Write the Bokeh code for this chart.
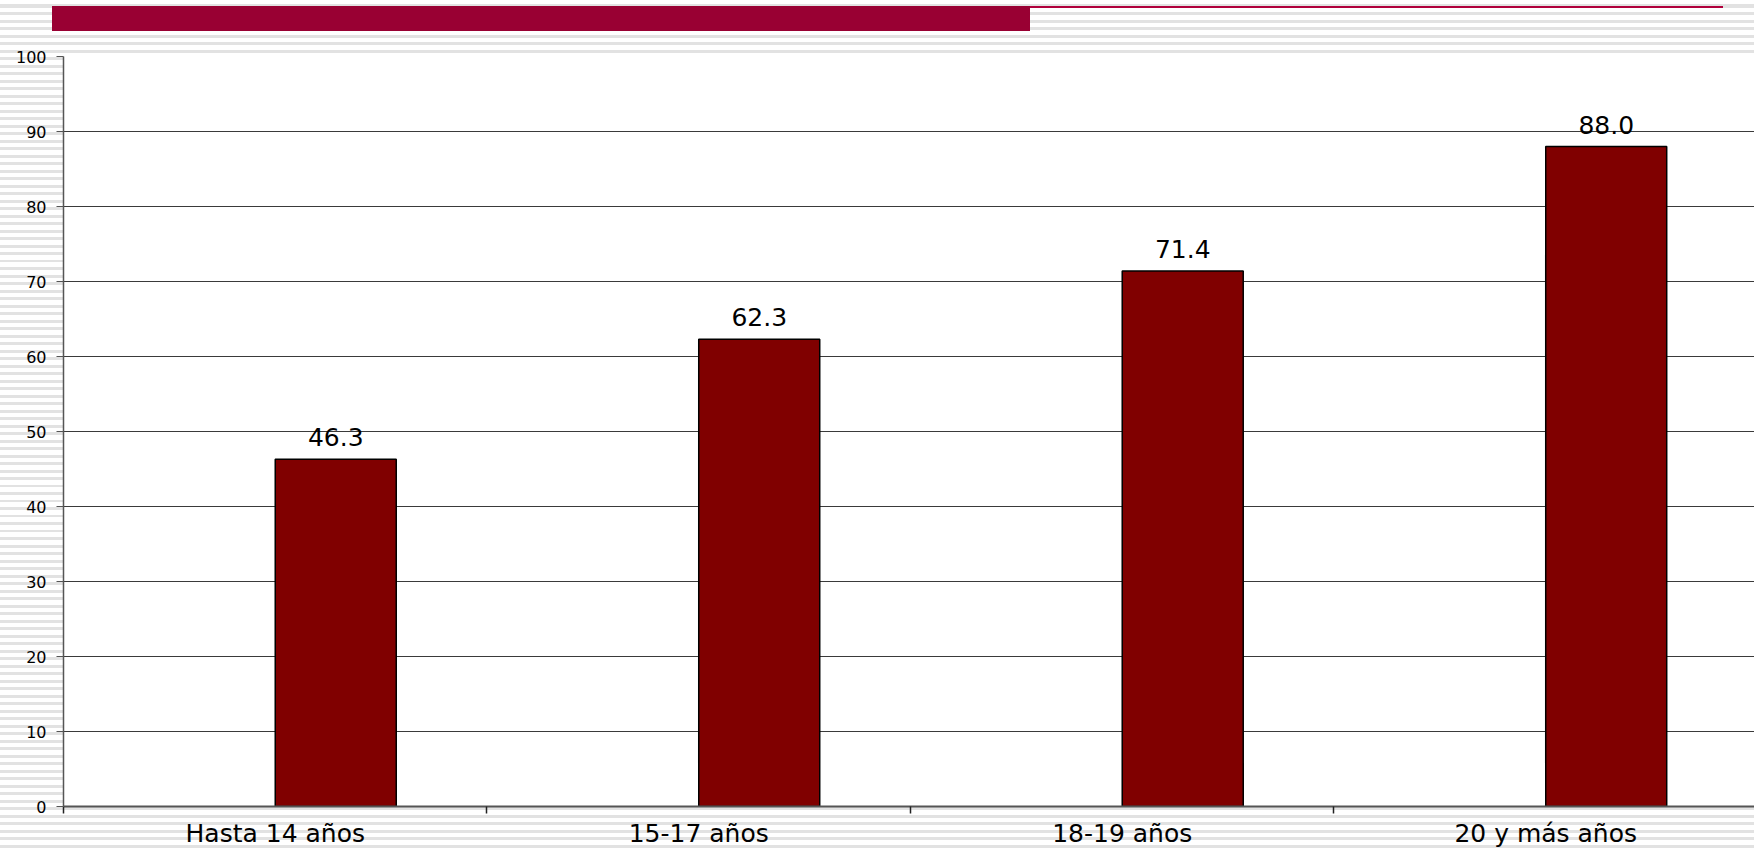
from bokeh.plotting import figure
from bokeh.models import Range1d, FixedTicker, ColumnDataSource
from bokeh.embed import file_html
from bokeh.resources import INLINE
from bokeh.core.properties import value

categories = ["Hasta 14 años", "15-17 años", "18-19 años", "20 y más años"]
values = [46.3, 62.3, 71.4, 88.0]
y_ticks = [0, 10, 20, 30, 40, 50, 60, 70, 80, 90, 100]

FONT = "DejaVu Sans"
n = len(categories)
bar_w = 2 / 7  # Excel clustered bar, 2 series, gap 150%
xs = [i + 0.5 + bar_w / 2 for i in range(n)]
labels = ["%.1f" % v for v in values]
src = ColumnDataSource(dict(x=xs, top=values, label=labels))

W, H = 1754, 850
p = figure(width=W, height=H, output_backend="svg", toolbar_location=None,
           x_range=Range1d(0, 3.993), y_range=Range1d(0, 100),
           min_border_left=63, min_border_right=0, min_border_top=56,
           min_border_bottom=44)
p.border_fill_alpha = 0
p.background_fill_color = "white"
p.outline_line_color = None

p.vbar(x="x", top="top", width=bar_w, bottom=0, source=src,
       fill_color="#800000", line_color="black", line_width=1.5)
p.text(x="x", y="top", text="label", source=src, text_align="center",
       text_baseline="alphabetic", y_offset=-22, text_font=value(FONT),
       text_font_size="25px", text_color="black")

# y axis
p.yaxis.ticker = FixedTicker(ticks=y_ticks, minor_ticks=[])
p.yaxis.major_label_text_font = FONT
p.yaxis.major_label_text_font_size = "16px"
p.yaxis.major_label_text_color = "black"
p.yaxis.major_tick_in = 0
p.yaxis.major_tick_out = 7
p.yaxis.major_label_standoff = 10
p.yaxis.axis_line_color = "#555555"
p.yaxis.axis_line_width = 1.5
p.yaxis.major_tick_line_color = "#555555"

# x axis: labels at category centres, tick marks at category boundaries
p.xaxis.ticker = FixedTicker(ticks=[i + 0.5 for i in range(n)],
                             minor_ticks=list(range(n + 1)))
p.xaxis.major_label_overrides = {i + 0.5: c for i, c in enumerate(categories)}
p.xaxis.major_label_text_font = FONT
p.xaxis.major_label_text_font_size = "25px"
p.xaxis.major_label_text_color = "black"
p.xaxis.major_tick_line_color = None
p.xaxis.major_tick_out = 0
p.xaxis.major_tick_in = 0
p.xaxis.minor_tick_in = 0
p.xaxis.minor_tick_out = 7
p.xaxis.minor_tick_line_color = "#222222"
p.xaxis.minor_tick_line_width = 1.5
p.xaxis.major_label_standoff = 5
p.xaxis.axis_line_color = "#555555"
p.xaxis.axis_line_width = 2

p.xgrid.grid_line_color = None
p.ygrid.ticker = FixedTicker(ticks=y_ticks)
p.ygrid.grid_line_color = "#3a3a3a"
p.ygrid.grid_line_width = 1

# slide decoration: crimson title bar + thin rule, over a striped background
p.styles = {"background": (
    "linear-gradient(#990033,#990033) 52px 6px / 978px 25px no-repeat, "
    "linear-gradient(#b0003c,#b0003c) 1030px 6px / 693px 2px no-repeat, "
    "repeating-linear-gradient(to bottom, #ffffff 0px, #ffffff 4.5px, #e2e2e2 4.5px, #e2e2e2 7.5px)")}

open("out.html", "w").write(file_html(p, INLINE))
